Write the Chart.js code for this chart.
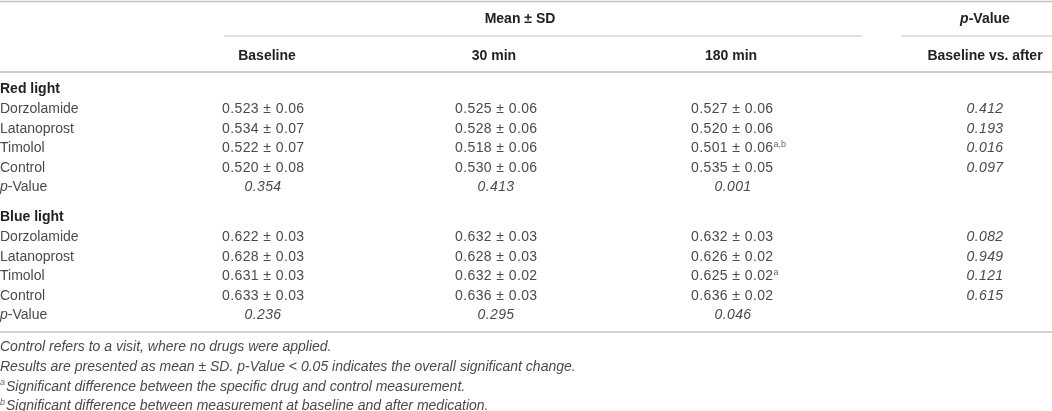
<!DOCTYPE html>
<html>
<head>
<meta charset="utf-8">
<script src="https://cdn.jsdelivr.net/npm/chart.js@4"></script>
<style>
  html, body { margin: 0; padding: 0; background: #fff; }
  #wrap { width: 1052px; height: 411px; }
</style>
</head>
<body>
<div id="wrap"><canvas id="tableChart" width="1052" height="411"></canvas></div>
<script>
// ---- table data ----
const groups = ["Red light", "Blue light"];
const drugs = ["Dorzolamide", "Latanoprost", "Timolol", "Control"];
const timePoints = ["Baseline", "30 min", "180 min"];

const redBaselineMean = [0.523, 0.534, 0.522, 0.520];
const redBaselineSD = [0.06, 0.07, 0.07, 0.08];
const red30Mean = [0.525, 0.528, 0.518, 0.530];
const red30SD = [0.06, 0.06, 0.06, 0.06];
const red180Mean = [0.527, 0.520, 0.501, 0.535];
const red180SD = [0.06, 0.06, 0.06, 0.05];
const red180Sup = ["", "", "a,b", ""];
const redPAfter = ["0.412", "0.193", "0.016", "0.097"];
const redPTime = ["0.354", "0.413", "0.001"];

const blueBaselineMean = [0.622, 0.628, 0.631, 0.633];
const blueBaselineSD = [0.03, 0.03, 0.03, 0.03];
const blue30Mean = [0.632, 0.628, 0.632, 0.636];
const blue30SD = [0.03, 0.03, 0.02, 0.03];
const blue180Mean = [0.632, 0.626, 0.625, 0.636];
const blue180SD = [0.03, 0.02, 0.02, 0.02];
const blue180Sup = ["", "", "a", ""];
const bluePAfter = ["0.082", "0.949", "0.121", "0.615"];
const bluePTime = ["0.236", "0.295", "0.046"];

const footnotes = [
  [{ t: "Control refers to a visit, where no drugs were applied.", i: true }],
  [{ t: "Results are presented as mean \u00b1 SD. p-Value < 0.05 indicates the overall significant change.", i: true }],
  [{ t: "a", sup: true, i: true }, { t: "Significant difference between the specific drug and control measurement.", i: true }],
  [{ t: "b", sup: true, i: true }, { t: "Significant difference between measurement at baseline and after medication.", i: true }]
];

// ---- layout (positions in canvas units) ----
const W = 1052, H = 411;
const COL_VALUE_LEFT = [222, 455, 691];   // left edge of mean ± SD values
const COL_CENTER = [263, 496, 733];      // centres used for p-value row
const HEAD_CENTER = [267, 494, 731];
const PCOL_CENTER = 985;
const MEAN_HEAD_X = 520;
const ROW_HEAD1 = 18, ROW_HEAD2 = 55;
const GROUP_TOP = [88, 216];
const ROW_STEP = 19.6;
const FOOT_TOP = 346;
const Y_SHIFT = 1.5;
const LINES = [
  { y: 1.5, x0: 0, x1: W, w: 1.6 },
  { y: 36, x0: 224, x1: 862, w: 1.1 },
  { y: 36, x0: 901, x1: W, w: 1.1 },
  { y: 72, x0: 0, x1: W, w: 1.6 },
  { y: 332, x0: 0, x1: W, w: 1.6 }
];

const FONT = '"Liberation Sans", Arial, sans-serif';
const TEXT = "#4a4a4a";
const BOLD = "#222";

function meanSD(m, s) { return m.toFixed(3) + " \u00b1 " + s.toFixed(2); }

// build cells as points {x, y, runs, align}
const cells = [];
function cell(x, y, runs, align) { cells.push({ x: x, y: y, runs: runs, align: align || "left" }); }

cell(MEAN_HEAD_X, ROW_HEAD1, [{ t: "Mean \u00b1 SD", b: true }], "center");
cell(PCOL_CENTER, ROW_HEAD1, [{ t: "p", b: true, i: true }, { t: "-Value", b: true }], "center");
timePoints.forEach((tp, c) => cell(HEAD_CENTER[c], ROW_HEAD2, [{ t: tp, b: true }], "center"));
cell(PCOL_CENTER, ROW_HEAD2, [{ t: "Baseline vs. after", b: true }], "center");

const groupData = [
  { means: [redBaselineMean, red30Mean, red180Mean], sds: [redBaselineSD, red30SD, red180SD], sup: red180Sup, pAfter: redPAfter, pTime: redPTime },
  { means: [blueBaselineMean, blue30Mean, blue180Mean], sds: [blueBaselineSD, blue30SD, blue180SD], sup: blue180Sup, pAfter: bluePAfter, pTime: bluePTime }
];

groups.forEach((g, gi) => {
  const top = GROUP_TOP[gi];
  const d = groupData[gi];
  cell(0, top, [{ t: g, b: true }]);
  drugs.forEach((drug, r) => {
    const y = top + ROW_STEP * (r + 1);
    cell(0, y, [{ t: drug }]);
    for (let c = 0; c < 3; c++) {
      const runs = [{ t: meanSD(d.means[c][r], d.sds[c][r]), num: true }];
      if (c === 2 && d.sup[r]) runs.push({ t: d.sup[r], sup: true });
      cell(COL_VALUE_LEFT[c], y, runs);
    }
    cell(PCOL_CENTER, y, [{ t: d.pAfter[r], i: true, num: true }], "center");
  });
  const py = top + ROW_STEP * 5;
  cell(0, py, [{ t: "p", i: true }, { t: "-Value" }]);
  d.pTime.forEach((p, c) => cell(COL_CENTER[c], py, [{ t: p, i: true, num: true }], "center"));
});

footnotes.forEach((f, k) => cell(0, FOOT_TOP + ROW_STEP * k, f));

function runFont(r) {
  const size = r.sup ? 9 : 14;
  return (r.i ? "italic " : "") + (r.b ? "bold " : "") + size + "px " + FONT;
}

function setRun(ctx, r) {
  ctx.font = runFont(r);
  ctx.letterSpacing = r.num ? "0.4px" : "0px";
}

const tablePlugin = {
  id: "tableText",
  afterDatasetsDraw(chart) {
    const ctx = chart.ctx;
    const xs = chart.scales.x, ys = chart.scales.y;
    ctx.save();
    // rules
    ctx.strokeStyle = "#c2c2c2";
    LINES.forEach(l => {
      ctx.lineWidth = l.w;
      ctx.beginPath();
      ctx.moveTo(xs.getPixelForValue(l.x0), ys.getPixelForValue(l.y));
      ctx.lineTo(xs.getPixelForValue(l.x1), ys.getPixelForValue(l.y));
      ctx.stroke();
    });
    // cell texts at dataset element positions
    const meta = chart.getDatasetMeta(0);
    ctx.textBaseline = "middle";
    ctx.textAlign = "left";
    meta.data.forEach((el, idx) => {
      const c = chart.data.datasets[0].data[idx];
      let total = 0;
      c.runs.forEach(r => { setRun(ctx, r); total += ctx.measureText(r.t).width + (r.sup ? 1 : 0); });
      let x = el.x;
      if (c.align === "center") x -= total / 2;
      const y = el.y + Y_SHIFT;
      c.runs.forEach(r => {
        setRun(ctx, r);
        ctx.fillStyle = r.b ? BOLD : (r.sup ? "#666" : TEXT);
        ctx.fillText(r.t, x, r.sup ? y - 4 : y);
        x += ctx.measureText(r.t).width + (r.sup ? 1 : 0);
      });
    });
    ctx.restore();
  }
};

new Chart(document.getElementById("tableChart"), {
  type: "scatter",
  data: { datasets: [{ data: cells, pointRadius: 0, pointHoverRadius: 0 }] },
  options: {
    responsive: false,
    animation: false,
    devicePixelRatio: 1,
    layout: { padding: 0 },
    events: [],
    plugins: { legend: { display: false }, tooltip: { enabled: false } },
    scales: {
      x: { type: "linear", min: 0, max: W, display: false },
      y: { type: "linear", min: 0, max: H, reverse: true, display: false }
    }
  },
  plugins: [tablePlugin]
});
</script>
</body>
</html>
